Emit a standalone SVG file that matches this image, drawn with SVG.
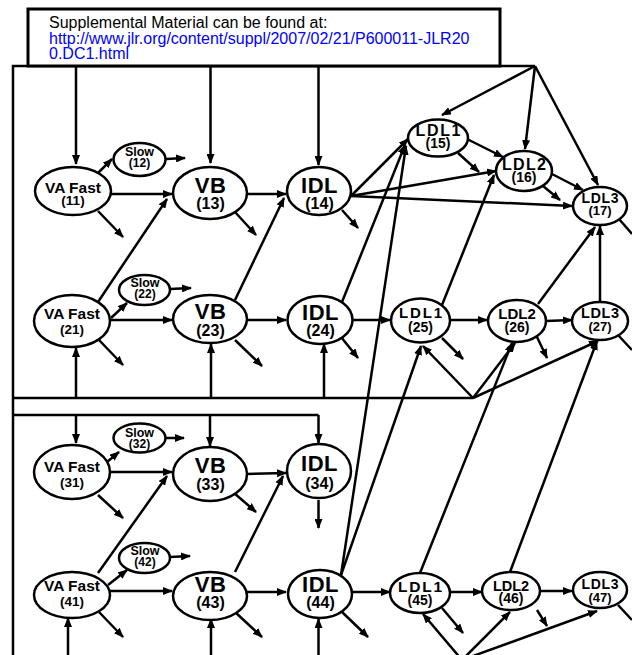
<svg xmlns="http://www.w3.org/2000/svg" width="632" height="655" viewBox="0 0 632 655">
<defs>
<marker id="ah" viewBox="0 0 10 8" refX="9" refY="4" markerWidth="10" markerHeight="8" orient="auto" markerUnits="userSpaceOnUse"><path d="M0,0 L10,4 L0,8 z" fill="#000"/></marker>
<style>
.n ellipse{fill:#fff;stroke:#000;stroke-width:2.5}
text{font-family:"Liberation Sans",Arial,sans-serif;font-weight:bold;text-anchor:middle;fill:#000}
.va{font-size:15.5px}
.van{font-size:13.5px}
.big{font-size:22px;letter-spacing:0.5px}
.bign{font-size:16px}
.sl{font-size:12.5px}
.sln{font-size:12px}
.ld{font-size:15.5px}
.ldn{font-size:14px}
#conn path{stroke:#000;stroke-width:2.5;fill:none}
#conn path.a{marker-end:url(#ah)}
.note text{font-weight:normal;text-anchor:start;font-size:16px}
</style>
</defs>
<rect width="632" height="655" fill="#fff"/>
<g id="conn">
<path d="M13,655 V66 H535"/>
<path class="a" d="M76,66 V164"/>
<path class="a" d="M210.5,66 V163"/>
<path class="a" d="M318.5,66 V165"/>
<path class="a" d="M535,66 L442,115"/>
<path class="a" d="M535,66 L525,149"/>
<path class="a" d="M535,66 L598,185"/>
<path class="a" d="M98,173 L112,159"/>
<path class="a" d="M166,159 L185,158"/>
<path class="a" d="M111,194 L172,194"/>
<path class="a" d="M98,211 L123,237"/>
<path class="a" d="M246,194 L286,194"/>
<path class="a" d="M235,212 L256,235"/>
<path class="a" d="M342,210 L358,228"/>
<path class="a" d="M351,196 L408,139"/>
<path class="a" d="M351,196 L496,171"/>
<path class="a" d="M351,196 L572,206"/>
<path class="a" d="M467,139 L503,157"/>
<path class="a" d="M458,153 L479,172"/>
<path class="a" d="M552,174 L583,190"/>
<path class="a" d="M543,186 L560,200"/>
<path d="M619,219 L632,234"/>
<path class="a" d="M98,302 L167,199"/>
<path class="a" d="M235,300 L284,198"/>
<path class="a" d="M342,302 L405,145"/>
<path class="a" d="M341,575 L406,146"/>
<path class="a" d="M341,575 L421,346"/>
<path class="a" d="M442,305 L494,175"/>
<path class="a" d="M538,304 L595,227"/>
<path class="a" d="M600,302 L600,226"/>
<path class="a" d="M420,573 L512,343"/>
<path class="a" d="M510,572 L597,341"/>
<path class="a" d="M98,573 L167,476"/>
<path class="a" d="M235,572 L283,476"/>
<path d="M13,398 H473"/>
<path class="a" d="M473,398 L423,346"/>
<path class="a" d="M473,398 L515,343"/>
<path class="a" d="M473,398 L598,341"/>
<path class="a" d="M76,398 V348"/>
<path class="a" d="M211,398 V344"/>
<path class="a" d="M324,398 V344"/>
<path class="a" d="M111,318 L127,303"/>
<path class="a" d="M170,289 L191,288"/>
<path class="a" d="M111,320 L172,320"/>
<path class="a" d="M99,340 L123,365"/>
<path class="a" d="M246,320 L286,320"/>
<path class="a" d="M235,340 L262,366"/>
<path class="a" d="M352,320 L390,320"/>
<path class="a" d="M341,337 L358,358"/>
<path class="a" d="M450,320 L487,320"/>
<path class="a" d="M442,338 L463,359"/>
<path class="a" d="M546,321 L572,320"/>
<path class="a" d="M537,337 L547,358"/>
<path d="M618,335 L632,350"/>
<path d="M13,415 H318.5"/>
<path class="a" d="M76,415 V443"/>
<path class="a" d="M210,415 V446"/>
<path class="a" d="M318.5,415 V443"/>
<path class="a" d="M107,462 L119,452"/>
<path class="a" d="M166,438 L184,438"/>
<path class="a" d="M110,472 L172,472"/>
<path class="a" d="M98,495 L123,518"/>
<path class="a" d="M246,474 L286,473"/>
<path class="a" d="M234,493 L256,512"/>
<path class="a" d="M318.5,500 V528"/>
<path class="a" d="M68,655 V618"/>
<path class="a" d="M211,655 V619"/>
<path class="a" d="M318.5,655 V619"/>
<path class="a" d="M108,585 L127,570"/>
<path class="a" d="M170,557 L190,556"/>
<path class="a" d="M110,591 L172,591"/>
<path class="a" d="M99,612 L123,637"/>
<path class="a" d="M246,592 L286,592"/>
<path class="a" d="M235,612 L262,637"/>
<path class="a" d="M352,592 L390,592"/>
<path class="a" d="M342,612 L368,637"/>
<path class="a" d="M450,592 L482,592"/>
<path class="a" d="M442,608 L463,633"/>
<path class="a" d="M540,591 L572,591"/>
<path class="a" d="M537,610 L547,626"/>
<path d="M618,605 L632,620"/>
<path class="a" d="M462,660 L423,614"/>
<path class="a" d="M462,660 L510,612"/>
<path class="a" d="M462,660 L597,611"/>
</g>
<g id="note" class="note">
<rect x="28" y="9" width="472" height="57" fill="#fff" stroke="#000" stroke-width="3"/>
<text x="49" y="28">Supplemental Material can be found at:</text>
<text x="49" y="43.5" style="fill:#0000ff">http://www.jlr.org/content/suppl/2007/02/21/P600011-JLR20</text>
<text x="49" y="59" style="fill:#0000ff">0.DC1.html</text>
</g>
<g id="n11" class="n"><ellipse cx="73" cy="191" rx="38" ry="24"/><text class="va" x="73" y="193">VA Fast</text><text class="van" x="73" y="205">(11)</text></g>
<g id="n12" class="n"><ellipse cx="139.5" cy="159.5" rx="26" ry="16.5"/><text class="sl" x="139.5" y="156">Slow</text><text class="sln" x="139.5" y="167">(12)</text></g>
<g id="n13" class="n"><ellipse cx="210" cy="193" rx="37" ry="26"/><text class="big" x="210.5" y="193">VB</text><text class="bign" x="210.5" y="208.5">(13)</text></g>
<g id="n14" class="n"><ellipse cx="319" cy="191" rx="32" ry="24"/><text class="big" x="319.5" y="193">IDL</text><text class="bign" x="319.5" y="208.5">(14)</text></g>
<g id="n15" class="n"><ellipse cx="438" cy="138" rx="30" ry="18.5"/><text class="ld" x="438" y="136" style="font-size:16px" textLength="45" lengthAdjust="spacing">LDL1</text><text class="ldn" x="438" y="148">(15)</text></g>
<g id="n16" class="n"><ellipse cx="524" cy="171" rx="28" ry="20"/><text class="ld" x="524" y="170" style="font-size:16px" textLength="44" lengthAdjust="spacing">LDL2</text><text class="ldn" x="524" y="182">(16)</text></g>
<g id="n17" class="n"><ellipse cx="600" cy="206" rx="27" ry="19"/><text class="ld" x="600" y="203" style="font-size:14px" textLength="37" lengthAdjust="spacing">LDL3</text><text class="ldn" x="600" y="215" style="font-size:13px">(17)</text></g>
<g id="n21" class="n"><ellipse cx="72" cy="321" rx="38" ry="26"/><text class="va" x="72" y="319">VA Fast</text><text class="van" x="72" y="334">(21)</text></g>
<g id="n22" class="n"><ellipse cx="144.5" cy="290" rx="25.5" ry="15"/><text class="sl" x="145" y="287">Slow</text><text class="sln" x="145" y="298">(22)</text></g>
<g id="n23" class="n"><ellipse cx="210" cy="319" rx="37" ry="24"/><text class="big" x="210.5" y="319">VB</text><text class="bign" x="210.5" y="336">(23)</text></g>
<g id="n24" class="n"><ellipse cx="320" cy="320" rx="32.5" ry="24"/><text class="big" x="320.5" y="320">IDL</text><text class="bign" x="320.5" y="336">(24)</text></g>
<g id="n25" class="n"><ellipse cx="420.5" cy="320.5" rx="29.5" ry="22"/><text class="ld" x="420.5" y="318" style="font-size:15px" textLength="43" lengthAdjust="spacing">LDL1</text><text class="ldn" x="420.5" y="331.5">(25)</text></g>
<g id="n26" class="n"><ellipse cx="517" cy="321" rx="29" ry="21"/><text class="ld" x="517" y="319" style="font-size:15px">LDL2</text><text class="ldn" x="517" y="332">(26)</text></g>
<g id="n27" class="n"><ellipse cx="600" cy="321" rx="28" ry="19"/><text class="ld" x="600" y="318" style="font-size:14.5px" textLength="38" lengthAdjust="spacing">LDL3</text><text class="ldn" x="600" y="331" style="font-size:13px">(27)</text></g>
<g id="n31" class="n"><ellipse cx="72" cy="472" rx="38" ry="27"/><text class="va" x="72" y="472">VA Fast</text><text class="van" x="72" y="487">(31)</text></g>
<g id="n32" class="n"><ellipse cx="139.5" cy="438" rx="26" ry="14.5"/><text class="sl" x="139.5" y="437">Slow</text><text class="sln" x="139.5" y="448">(32)</text></g>
<g id="n33" class="n"><ellipse cx="210" cy="474" rx="37" ry="27"/><text class="big" x="210.5" y="473">VB</text><text class="bign" x="210.5" y="490">(33)</text></g>
<g id="n34" class="n"><ellipse cx="319" cy="471" rx="32" ry="27"/><text class="big" x="319.5" y="471">IDL</text><text class="bign" x="319.5" y="489">(34)</text></g>
<g id="n41" class="n"><ellipse cx="72" cy="595" rx="38" ry="23"/><text class="va" x="72" y="591">VA Fast</text><text class="van" x="72" y="606">(41)</text></g>
<g id="n42" class="n"><ellipse cx="144.5" cy="558" rx="25.5" ry="15"/><text class="sl" x="145" y="555">Slow</text><text class="sln" x="145" y="566">(42)</text></g>
<g id="n43" class="n"><ellipse cx="210" cy="596" rx="37" ry="24"/><text class="big" x="210.5" y="592">VB</text><text class="bign" x="210.5" y="608">(43)</text></g>
<g id="n44" class="n"><ellipse cx="320" cy="594" rx="32" ry="24"/><text class="big" x="320.5" y="592">IDL</text><text class="bign" x="320.5" y="608">(44)</text></g>
<g id="n45" class="n"><ellipse cx="420" cy="593" rx="30" ry="20"/><text class="ld" x="420" y="592" textLength="44" lengthAdjust="spacing">LDL1</text><text class="ldn" x="420" y="605">(45)</text></g>
<g id="n46" class="n"><ellipse cx="511" cy="591" rx="29" ry="19"/><text class="ld" x="511" y="591" style="font-size:14.5px">LDL2</text><text class="ldn" x="511" y="603">(46)</text></g>
<g id="n47" class="n"><ellipse cx="600" cy="590" rx="27" ry="18"/><text class="ld" x="600" y="589" style="font-size:14px" textLength="37" lengthAdjust="spacing">LDL3</text><text class="ldn" x="600" y="602" style="font-size:13px">(47)</text></g>
</svg>
